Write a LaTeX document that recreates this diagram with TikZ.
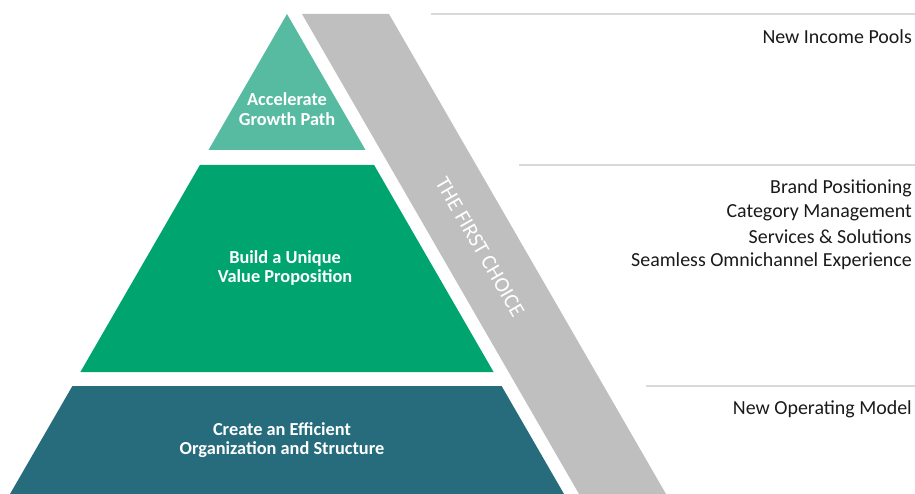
\documentclass[tikz,border=0pt]{standalone}
\usepackage{fontspec}
\setmainfont{Carlito}
\usetikzlibrary{positioning}
\definecolor{topgreen}{HTML}{57BBA1}
\definecolor{midgreen}{HTML}{00A46F}
\definecolor{basepetrol}{HTML}{266C7C}
\definecolor{bandgray}{HTML}{BFBFBF}
\definecolor{rulegray}{HTML}{D9D9D9}
\definecolor{txtgray}{HTML}{1A1A1A}
\tikzset{
  level/.style={font=\bfseries\fontsize{18.4}{19.5}\selectfont, text=white, align=center},
  item/.style={font=\fontsize{20}{24.5}\selectfont, text=txtgray, anchor=east, inner sep=0pt},
  rule/.style={draw=rulegray, line width=1.5bp}
}
\begin{document}
\begin{tikzpicture}[x=1bp, y=-1bp]
  \useasboundingbox (0,0) rectangle (915,494);
  \coordinate (apex) at (287,14);
  \coordinate (t1) at (208.5,150);
  \coordinate (t2) at (365.5,150);
  \coordinate (m1) at (199.9,165);
  \coordinate (m2) at (374.1,165);
  \coordinate (m3) at (493.6,372);
  \coordinate (m4) at (80.4,372);
  \coordinate (b1) at (72.4,386);
  \coordinate (b2) at (501.6,386);
  \coordinate (b3) at (564,494);
  \coordinate (b4) at (10,494);
  \coordinate (g1) at (302,14);
  \coordinate (g2) at (389,14);
  \coordinate (g3) at (666,494);
  \coordinate (g4) at (579,494);

  \fill[topgreen] (apex) -- (t2) -- (t1) -- cycle;
  \fill[midgreen] (m1) -- (m2) -- (m3) -- (m4) -- cycle;
  \fill[basepetrol] (b1) -- (b2) -- (b3) -- (b4) -- cycle;
  \fill[bandgray] (g1) -- (g2) -- (g3) -- (g4) -- cycle;

  \node (accel) [level] at (287,109) {Accelerate\\Growth Path};
  \node (build) [level] at (285,268) {Build a Unique\\Value Proposition};
  \node (create) [level] at (282,440) {Create an Efficient\\Organization and Structure};
  \node (choice) [font=\fontsize{21.5}{24}\selectfont, text=white, rotate=-60, inner sep=0pt] at (480,247) {THE FIRST CHOICE};

  \coordinate (r1a) at (431,14);
  \coordinate (r1b) at (915,14);
  \coordinate (r2a) at (519,165);
  \coordinate (r2b) at (915,165);
  \coordinate (r3a) at (646,386);
  \coordinate (r3b) at (915,386);
  \draw[rule] (r1a) -- (r1b);
  \draw[rule] (r2a) -- (r2b);
  \draw[rule] (r3a) -- (r3b);

  \node (pools) [item] at (912,37) {New Income Pools};
  \node (brand) [item] at (912,188) {Brand Positioning};
  \node (categ) [item] at (912,212.5) {Category Management};
  \node (serv) [item] at (912,237) {Services \& Solutions};
  \node (omni) [item] at (912,261.5) {Seamless Omnichannel Experience};
  \node (opmod) [item] at (912,409) {New Operating Model};
\end{tikzpicture}
\end{document}
